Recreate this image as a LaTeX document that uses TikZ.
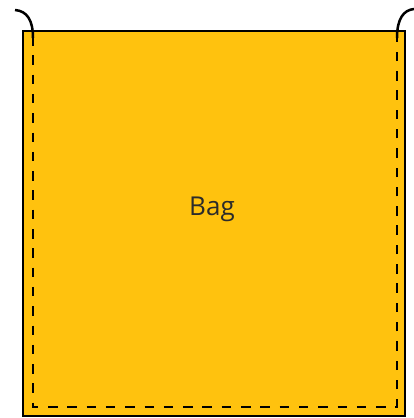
\documentclass[tikz,border=0pt]{standalone}
\usepackage{fontspec}
\setmainfont{Open Sans}
\definecolor{bagyellow}{HTML}{FFC20E}
\definecolor{labelgray}{HTML}{2B2B2B}
\begin{document}
\begin{tikzpicture}[x=1pt,y=-1pt,
  outline/.style={draw=black,line width=2.5pt},
  stitch/.style={draw=black,line width=2.6pt,dash pattern=on 9.5pt off 9.8pt},
  hook/.style={draw=black,line width=2.5pt}]
\useasboundingbox (0,0) rectangle (414,418);
\fill[bagyellow] (23,31) rectangle (405,416);
\draw[outline] (23,31) rectangle (405,416);
\draw[stitch] (33,36) -- (33,407) -- (397,407) -- (397,36);
\draw[hook] (15,10) .. controls (27,11) and (33,20) .. (33,38);
\draw[hook] (397,38) .. controls (397,18) and (404,10) .. (414,9);
\node[text=labelgray,font=\fontsize{26}{30}\selectfont] (bag) at (212,209) {Bag};
\end{tikzpicture}
\end{document}
